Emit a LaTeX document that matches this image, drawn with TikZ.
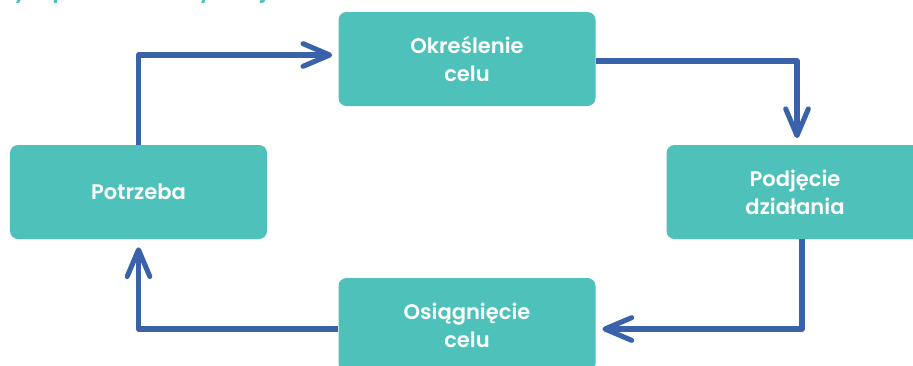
\documentclass[tikz,border=0pt]{standalone}
\usepackage{fontspec}
\setmainfont{Poppins}[UprightFont=* SemiBold, BoldFont=* SemiBold]
\usetikzlibrary{arrows.meta}
\definecolor{boxteal}{RGB}{78,193,186}
\definecolor{flowblue}{RGB}{58,98,170}
\begin{document}
\begin{tikzpicture}[x=0.75pt,y=-0.75pt,
  stage/.style={fill=boxteal, rounded corners=6pt, minimum width=192.75pt,
    minimum height=70.5pt, text=white, align=center,
    font=\fontsize{15.8pt}{21pt}\selectfont, inner sep=0pt},
  flow/.style={draw=flowblue, line width=3.8pt, line join=round,
    -{Straight Barb[length=20pt,width=17pt,line cap=round,line join=round]}},
]
\useasboundingbox (0,0) rectangle (913,365);
\clip (0,0) rectangle (913,365);
% heading above the cycle (only its lowest part lies inside the frame)
\node[anchor=base west, text=boxteal, inner sep=0pt,
  font=\fontsize{17pt}{20pt}\selectfont] (title) at (-4,-3) {Cykl procesu motywacji};
% the four stages
\node[stage] (okr)  at (467,59)  {Określenie\\celu};
\node[stage] (podj) at (795,192) {Podjęcie\\działania};
\node[stage] (osi)  at (467,325) {Osiągnięcie\\celu};
\node[stage] (potr) at (138.5,192) {Potrzeba};
% connectors around the cycle
\draw[flow, shorten >=4.5pt] (potr.north) |- ([yshift=3pt]okr.west);
\draw[flow, shorten >=5pt] ([yshift=-1.5pt]okr.east) -| ([xshift=1.5pt]podj.north);
\draw[flow, shorten >=5pt] ([xshift=5.25pt]podj.south) |- ([yshift=-3pt]osi.east);
\draw[flow, shorten >=6pt] ([yshift=-3pt]osi.west) -| (potr.south);
\end{tikzpicture}
\end{document}
